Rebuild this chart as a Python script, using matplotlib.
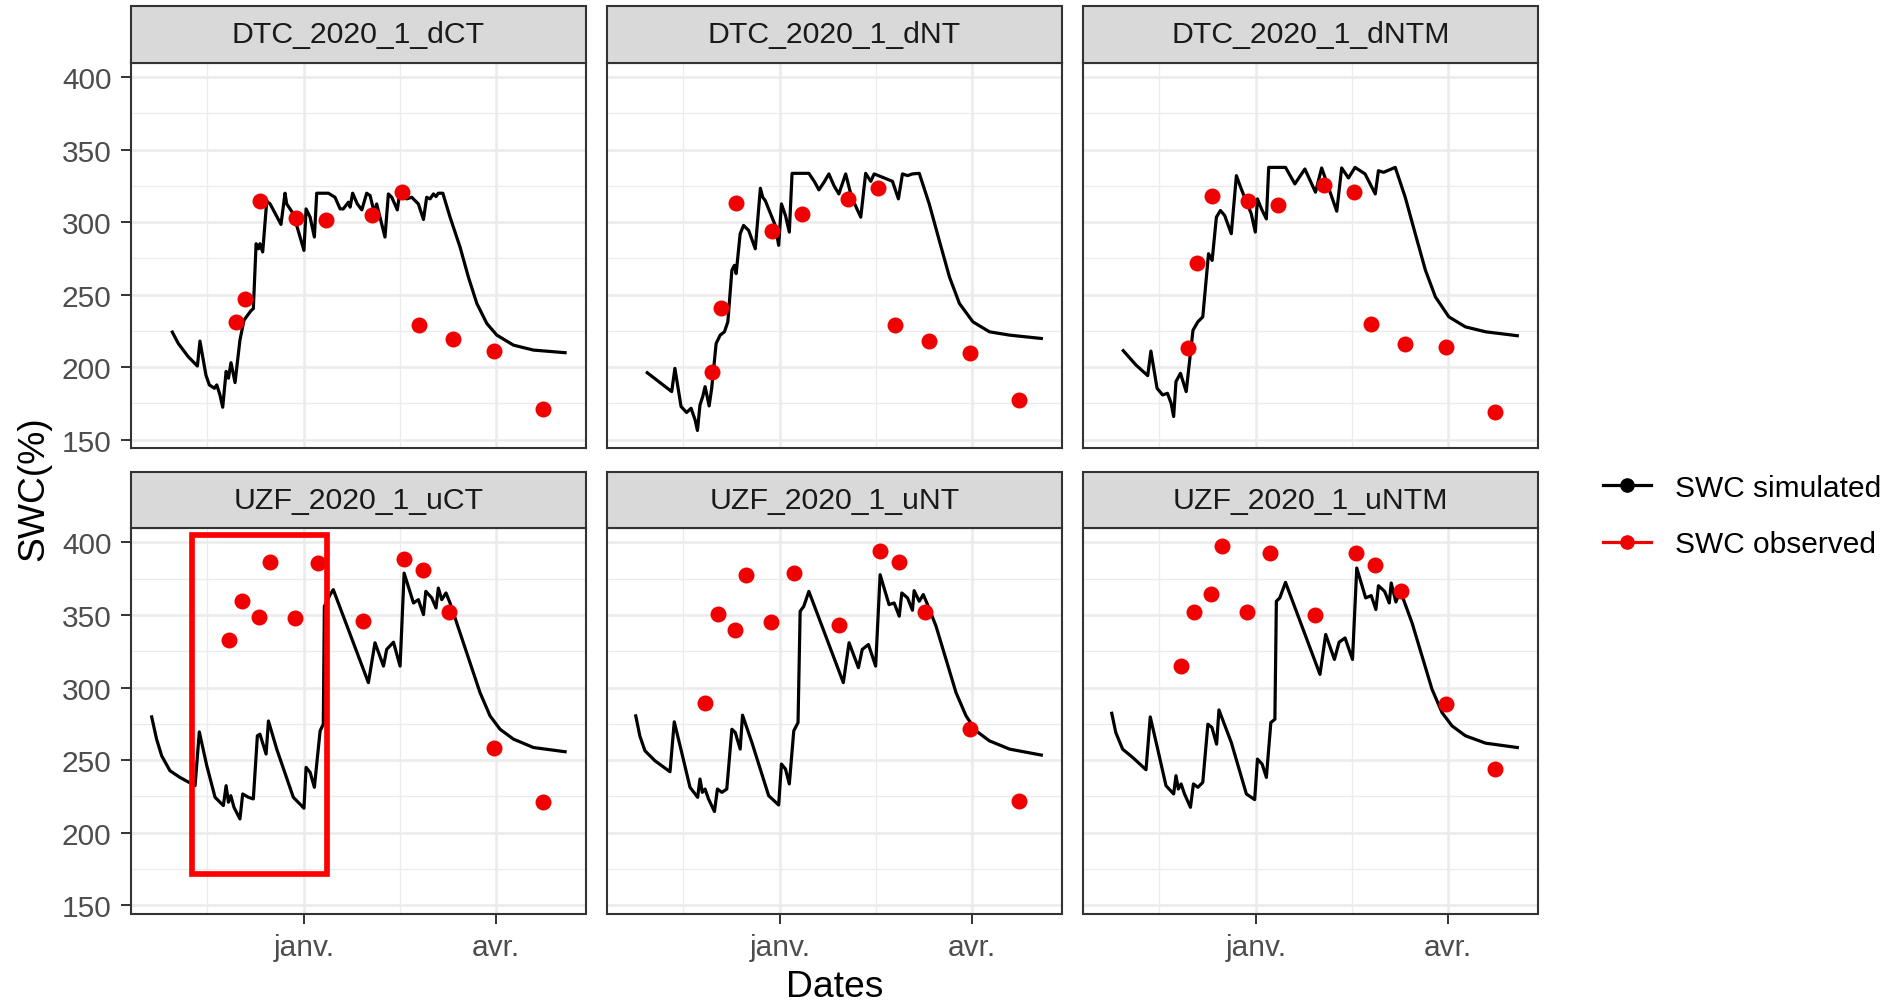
import numpy as np
import matplotlib
matplotlib.use("Agg")
import matplotlib.pyplot as plt
import matplotlib.dates as mdates
from matplotlib.patches import Rectangle
from matplotlib.lines import Line2D

plt.rcParams['font.family'] = ['Liberation Sans', 'DejaVu Sans']

# days counted from 2021-01-01
dct_days = [-62.1, -59.3, -54.6, -50.3, -49.1, -46.3, -44.7, -42.3, -41.2, -39.7, -38.4, -36.8, -35.7,
            -34.5, -32.6, -30.3, -28.4, -25.2, -24, -22.7, -21.6, -20.9, -19.6, -17.7, -16.1, -11, -9.1,
            -8.3, -5.2, -0.2, 0.8, 2.7, 4.7, 5.8, 11.3, 14.4, 16.8, 18.3, 20.7, 21.5, 22.7, 24.9, 27, 29.3,
            30.9, 32.8, 34, 37.9, 39.5, 41.1, 43.7, 44.7, 48.1, 50.5, 53.6, 56, 57.5, 59.1, 60.7, 61.9, 63,
            65.1, 68.5, 73.2, 77.1, 81.1, 85.8, 90.5, 98.3, 107.7, 122.6]
dct_sim = [224.2, 216.4, 207.2, 200.8, 218, 194.6, 187.8, 185.5, 187.8, 180.9, 172.4, 197.1, 192.4,
           203.1, 189.4, 218.7, 232.4, 238.8, 240.4, 285.1, 281.6, 285.1, 279.4, 314.4, 312.5, 298.4, 319.9,
           312.5, 305.7, 280.5, 309.1, 303.4, 289.7, 319.9, 319.9, 317.1, 309.1, 309.1, 313.7, 310.3, 319.9,
           312.5, 308.4, 319.9, 318.3, 306.8, 312.5, 289.7, 319.4, 317.1, 308.4, 319, 316, 317.1, 312.5,
           301.8, 317.1, 316, 319.4, 317.6, 319.9, 319.9, 303.4, 282.8, 262.2, 243.9, 230.1, 222.1, 215.2,
           211.8, 210]

dnt_days = [-62.6, -56.6, -51.1, -49.6, -46.7, -44.1, -42, -40.1, -39, -37.8, -36.5, -35.4, -33.5, -32.3,
            -30.2, -28.3, -26.3, -24.7, -22.8, -21.6, -20.8, -18.9, -17.3, -14.9, -11.8, -9.4, -8.3, -7.1,
            -2.4, -0.8, 0.5, 2.4, 4.2, 5.5, 13.4, 16.2, 18.1, 20.5, 22.8, 25.2, 27.5, 30.7, 33.5, 37.8, 40.1,
            42.5, 44.1, 48, 52.7, 55.5, 57.4, 59.8, 62.1, 65.3, 70, 74.7, 79.5, 84.2, 90.5, 98.3, 107.8, 122.7]
dnt_sim = [196.2, 189.4, 183.2, 199.2, 172.9, 168.8, 171.7, 163.7, 156.4, 174, 179.8, 186.6, 173.3, 185.5,
           216.4, 222.1, 224.4, 231.3, 266.8, 270.2, 264.5, 292, 297.7, 294.2, 281.6, 323.3, 317.1, 314.8,
           297.7, 284, 312.5, 304.5, 293.1, 333.6, 333.6, 327.4, 322.2, 327.4, 333.2, 325.1, 319.4, 333.2,
           317.1, 303.4, 333.6, 328.1, 333.2, 330.9, 328.1, 316, 333.2, 332, 333.2, 333.6, 312.5, 287.4,
           262.2, 243.9, 231.3, 224.4, 222.1, 219.8]

dntm_days = [-62.6, -56.6, -51.1, -49.6, -46.7, -44.1, -41.8, -40.1, -38.9, -37.8, -35.7, -33, -29.8,
             -27.5, -25.2, -22.5, -20.8, -18.8, -16.9, -14.9, -11.8, -9.4, -7.1, -2.4, -0.5, 0.5, 2.4, 4.7,
             5.8, 13.7, 18.1, 22.8, 27.8, 30.7, 37.8, 40.1, 43.3, 46.4, 51.1, 55.9, 57.4, 59.8, 65.3, 70,
             74.7, 79.5, 84.2, 90.5, 98.3, 107.8, 122.7]
dntm_sim = [211.4, 201.5, 194.2, 211.1, 185.5, 180.9, 182, 175.2, 166, 190.1, 195.8, 183.2, 225.5,
            231.3, 234.7, 278.2, 273.6, 303.4, 308, 304.5, 292, 332, 322.8, 305.7, 293.1, 316, 309.1, 302.2,
            337.7, 337.7, 326.3, 336.6, 320.6, 337.3, 307.5, 337.3, 330.4, 337.7, 333.2, 319.4, 335.4,
            334.3, 337.7, 317.1, 292, 266.8, 248.4, 234.7, 227.8, 224.4, 221.7]

uct_days = [-71.8, -69.5, -67.1, -63.2, -58.5, -51.4, -49.4, -45.9, -42, -38.1, -36.8, -35.7, -34.6,
            -33.1, -30.3, -29, -26.3, -24, -22.1, -20.9, -18, -16.9, -13, -5.2, -0.2, 0.8, 2.7, 4.7, 7.4,
            8.9, 9.4, 12.1, 13.6, 30.1, 33.2, 37.2, 38.7, 41.9, 45, 46.9, 51.3, 53.6, 56, 57.1, 59.9, 61.9,
            63, 64.6, 66.6, 68.5, 73.2, 77.9, 82.6, 87.3, 92, 98.3, 107.7, 122.6]
uct_sim = [279.8, 264.5, 253, 242.7, 238.1, 232.4, 269.5, 246.2, 224.4, 218.7, 232.4, 221, 225.5,
           217.5, 209.5, 226.7, 224.4, 223.3, 266.8, 267.9, 254.2, 277, 257.6, 224.4, 216.9, 245, 241.6,
           231.3, 270.2, 274.8, 356, 364, 367.5, 303.4, 330.9, 314.8, 326.3, 331.3, 314.8, 378.9, 358.3,
           360.6, 350.3, 366.3, 361.8, 354.9, 368.6, 360.6, 365.2, 358.3, 337.7, 317.1, 296.5, 280.5,
           271.3, 264.5, 258.7, 255.8]

unt_days = [-68, -66.1, -63.7, -59, -51.9, -49.9, -46.4, -42.5, -38.9, -37.8, -36.7, -35.4, -33.8, -31,
            -29.6, -27.5, -25.2, -22.8, -21.2, -18.9, -17.8, -13.4, -5.5, -0.8, 0.5, 2.4, 4.2, 6.3, 8.3,
            9.3, 11, 13.4, 29.6, 32.3, 36.7, 38.5, 41.4, 44.8, 46.9, 51.1, 53.5, 55.9, 57.1, 59.8, 62.1,
            62.9, 65.3, 67.2, 69.2, 73.2, 77.9, 82.6, 87.3, 92, 98.3, 107.8, 122.7]
unt_sim = [280.5, 266.8, 256.5, 249.6, 242, 276.4, 255.3, 231.3, 224.4, 237, 227.8, 230.1, 223.3, 214.6,
           230.1, 227.8, 230.1, 271.3, 269, 257.6, 281, 262.2, 225.5, 219.1, 247.3, 243.9, 233.6, 270.2,
           275.9, 352.6, 356, 366.3, 303.4, 330.9, 313.7, 326.3, 329.7, 314.8, 377.8, 357.2, 358.3, 349.2,
           365.2, 361.8, 353.3, 366.8, 359.5, 364.1, 357.2, 342.3, 319.4, 296.5, 280.5, 270.2, 263.3,
           257.6, 253.5]

untm_days = [-68, -66.1, -62.9, -58.2, -51.9, -49.9, -46.4, -42.5, -38.9, -37.8, -36.7, -35.4, -33.8, -31,
             -29.6, -27.5, -25.2, -22.8, -20.9, -18.7, -17.6, -11.8, -4.7, -0.8, 0.5, 2.7, 4.7, 6.8, 8.7,
             9.4, 11, 13.7, 29.9, 32.6, 36.7, 38.9, 41.7, 45.2, 47.2, 51.4, 54, 56.2, 57.4, 60.3, 62.5,
             63.4, 65.6, 67.6, 69.2, 73.2, 77.9, 82.6, 87.3, 92, 98.3, 107.8, 122.7]
untm_sim = [282.3, 269, 257.6, 251.9, 243.4, 279.8, 257.6, 232.4, 226.7, 239.3, 230.1, 233.6, 226.7,
            217.5, 233.6, 231.3, 234.7, 274.8, 272.5, 261, 284.6, 262.2, 226.7, 222.8, 250.7, 247.3, 238.1,
            275.9, 278.2, 359.5, 361.8, 372.5, 309.1, 336.6, 319.4, 331.3, 334.2, 319.4, 382.4, 361.8,
            363.4, 353.8, 370.2, 366.3, 358.3, 372.1, 359, 366.3, 360.6, 344.6, 321.7, 298.8, 282.8, 273.6,
            266.8, 261.7, 258.7]

dtc_obs_days = [-32, -28, -21, -4, 10, 32, 46, 54, 70, 89, 112]
dct_obs = [231.3, 247.3, 314.8, 302.7, 301.1, 304.8, 320.6, 229.2, 219.1, 211.1, 171.3]
dnt_obs = [196.7, 240.9, 313, 294.2, 305.7, 316, 323.3, 229.4, 218, 210, 177.5]
dntm_obs = [213, 272, 318.3, 314.4, 311.9, 325.8, 320.6, 229.7, 216, 214.1, 169.2]

uzf_obs_days = [-35.5, -29.5, -21.5, -16, -4.5, 6.6, 27.8, 47, 56, 68, 89, 112.2]
uct_obs = [332.5, 359.5, 348.7, 386.3, 348, 385.8, 346.2, 388.6, 381.2, 351.9, 258.7, 221]
unt_obs = [289.7, 351, 340, 377.8, 345.1, 378.9, 343, 394.3, 386.5, 352.2, 271.3, 222.1]
untm_obs = [314.8, 352.2, 364.7, 397.9, 351.9, 392.7, 349.9, 392.7, 384.7, 366.8, 288.5, 243.9]

panel_names = ["DTC_2020_1_dCT", "DTC_2020_1_dNT", "DTC_2020_1_dNTM",
               "UZF_2020_1_uCT", "UZF_2020_1_uNT", "UZF_2020_1_uNTM"]
sim_days = [dct_days, dnt_days, dntm_days, uct_days, unt_days, untm_days]
sim_vals = [dct_sim, dnt_sim, dntm_sim, uct_sim, unt_sim, untm_sim]
obs_days = [dtc_obs_days] * 3 + [uzf_obs_days] * 3
obs_vals = [dct_obs, dnt_obs, dntm_obs, uct_obs, unt_obs, untm_obs]

# highlighted window in the UZF_2020_1_uCT panel
box_days = [-52.8, 10.5]
box_swc = [171.5, 405]

major_dates = ["2021-01-01", "2021-04-01"]
major_labels = ["janv.", "avr."]
minor_dates = ["2020-11-16", "2021-02-15"]
y_major = [150, 200, 250, 300, 350, 400]
y_minor = [175, 225, 275, 325, 375]

base = mdates.date2num(np.datetime64("2021-01-01"))


def to_x(days):
    return base + np.asarray(days, dtype=float)


all_x = np.concatenate([np.asarray(d, float) for d in sim_days + obs_days])
all_y = np.concatenate([np.asarray(v, float) for v in sim_vals + obs_vals])
xr = all_x.max() - all_x.min()
yr = all_y.max() - all_y.min()
xlim = (to_x(all_x.min() - 0.05 * xr), to_x(all_x.max() + 0.05 * xr))
ylim = (all_y.min() - 0.05 * yr, all_y.max() + 0.05 * yr)

W, H = 1893, 1003
fig = plt.figure(figsize=(W / 100, H / 100), dpi=100)

col_left = [131, 607, 1083]
row_top = [63.5, 529]
pw, ph = 455, 385.5
strip_h = 56.5 / ph

grid_col = "#EBEBEB"
border_col = "#333333"
obs_col = "#F00000"

for i, name in enumerate(panel_names):
    r, c = divmod(i, 3)
    ax = fig.add_axes([col_left[c] / W, 1 - (row_top[r] + ph) / H, pw / W, ph / H])
    ax.set_axisbelow(True)
    ax.set_xlim(xlim)
    ax.set_ylim(ylim)

    ax.set_xticks(mdates.date2num([np.datetime64(d) for d in major_dates]))
    ax.set_xticks(mdates.date2num([np.datetime64(d) for d in minor_dates]), minor=True)
    ax.set_yticks(y_major)
    ax.set_yticks(y_minor, minor=True)
    ax.grid(which="major", color=grid_col, lw=1.8)
    ax.grid(which="minor", color=grid_col, lw=0.9)

    ax.plot(to_x(sim_days[i]), sim_vals[i], color="black", lw=2.3, zorder=3,
            solid_joinstyle="round")
    ax.plot(to_x(obs_days[i]), obs_vals[i], "o", color=obs_col, ms=11.5, mec="none", zorder=4)

    for s in ax.spines.values():
        s.set_color(border_col)
        s.set_linewidth(1.5)

    ax.tick_params(which="minor", length=0)
    ax.tick_params(which="major", length=7.5, width=1.4, color=border_col,
                   labelsize=21.5, labelcolor="#4D4D4D", pad=6.5)
    if r == 1:
        ax.set_xticklabels(major_labels)
    else:
        ax.tick_params(axis="x", length=0, labelbottom=False)
    if c != 0:
        ax.tick_params(axis="y", length=0, labelleft=False)

    ax.add_patch(Rectangle((0, 1), 1, strip_h, transform=ax.transAxes, clip_on=False,
                           facecolor="#D9D9D9", edgecolor=border_col, lw=1.5, zorder=5))
    ax.text(0.5, 1 + strip_h / 2, name, transform=ax.transAxes, ha="center", va="center",
            fontsize=21.8, color="#1A1A1A", zorder=6)

    if name == "UZF_2020_1_uCT":
        x0, x1 = to_x(box_days)
        ax.add_patch(Rectangle((x0, box_swc[0]), x1 - x0, box_swc[1] - box_swc[0],
                               fill=False, edgecolor="#FF0000", lw=4.1, clip_on=False, zorder=7))

fig.text(835 / W, 1 - 988 / H, "Dates", ha="center", va="center", fontsize=26.8)
fig.text(34 / W, 1 - 489 / H, "SWC(%)", ha="center", va="center", rotation=90, fontsize=26.8)

handles = [Line2D([], [], color="black", lw=2.3, marker="o", ms=9.5),
           Line2D([], [], color=obs_col, lw=2.3, marker="o", ms=9.5)]
fig.legend(handles, ["SWC simulated", "SWC observed"], loc="center left",
           bbox_to_anchor=(1603 / W, 1 - 517 / H), frameon=False, fontsize=21.5,
           handlelength=1.6, handletextpad=0.8, labelspacing=0.95, borderpad=0, borderaxespad=0)

fig.savefig("out.png", dpi=100, facecolor="white")
